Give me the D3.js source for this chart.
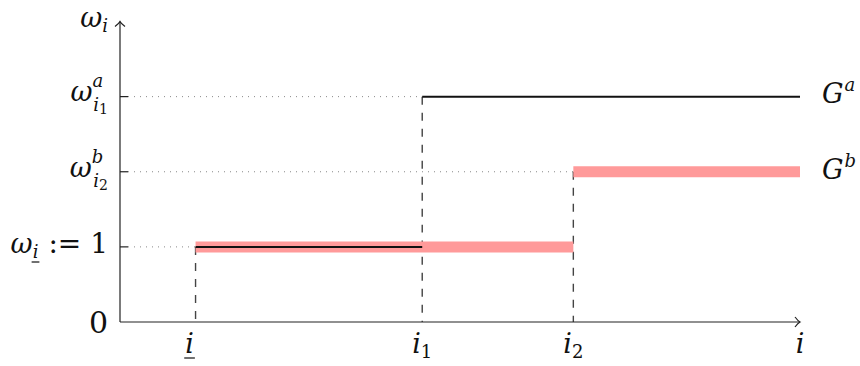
<!DOCTYPE html>
<html><head><meta charset="utf-8">
<script src="https://cdn.jsdelivr.net/npm/d3@7"></script>
<style>body{margin:0;background:#fff}svg{display:block}
text{font-family:"DejaVu Serif",serif}</style>
</head><body>
<svg id="c" width="860" height="366"></svg>
<script>
// ---- data ----
const xCategories = ["i_", "i1", "i2", "i"];     // x tick labels (symbolic)
const xValues = [1, 4, 6, 9];                      // positions of the index marks
const yLevels = [0, 1, 2, 3];                      // 0, ω_i:=1, ω^b_{i2}, ω^a_{i1}
const seriesA = [[1, 4, 1], [4, 9, 3]];            // G^a steps: [x0, x1, level]
const seriesB = [[1, 6, 1], [6, 9, 2]];            // G^b steps
const seriesNames = ["a", "b"];

const svg = d3.select("#c");
const x = d3.scaleLinear().domain([0, 9]).range([120, 800]);
const y = d3.scaleLinear().domain([0, 4]).range([322, 21.5]);

// dotted guide lines
const guides = [[xValues[0], 1], [xValues[2], 2], [xValues[1], 3]];
svg.append("g").selectAll("line").data(guides).join("line")
  .attr("x1", x(0) + 8).attr("x2", d => x(d[0]))
  .attr("y1", d => y(d[1])).attr("y2", d => y(d[1]))
  .attr("stroke", "#888").attr("stroke-width", 1).attr("stroke-dasharray", "1,5");

// dashed vertical lines
const verts = [[xValues[0], 1], [xValues[1], 3], [xValues[2], 2]];
svg.append("g").selectAll("line").data(verts).join("line")
  .attr("x1", d => x(d[0])).attr("x2", d => x(d[0]))
  .attr("y1", d => y(d[1])).attr("y2", y(0))
  .attr("stroke", "#444").attr("stroke-width", 1.4).attr("stroke-dasharray", "8,8");

// G^b thick pink
svg.append("g").selectAll("line").data(seriesB).join("line")
  .attr("x1", d => x(d[0])).attr("x2", d => x(d[1]))
  .attr("y1", d => y(d[2])).attr("y2", d => y(d[2]))
  .attr("stroke", "#ff9a9a").attr("stroke-width", 11);

// G^a black
svg.append("g").selectAll("line").data(seriesA).join("line")
  .attr("x1", d => x(d[0])).attr("x2", d => x(d[1]))
  .attr("y1", d => y(d[2])).attr("y2", d => y(d[2]))
  .attr("stroke", "#111").attr("stroke-width", 2);

// axes
const ax = svg.append("g").attr("fill", "none").attr("stroke", "#222").attr("stroke-width", 1.2);
ax.append("line").attr("x1", x(0)).attr("x2", x(9)).attr("y1", y(0)).attr("y2", y(0));
ax.append("line").attr("x1", x(0)).attr("x2", x(0)).attr("y1", y(0)).attr("y2", y(4));
ax.append("path").attr("d", `M${x(9)-5},${y(0)-5} Q${x(9)-2},${y(0)-1} ${x(9)},${y(0)} Q${x(9)-2},${y(0)+1} ${x(9)-5},${y(0)+5}`);
ax.append("path").attr("d", `M${x(0)-5},${y(4)+5} Q${x(0)-1},${y(4)+2} ${x(0)},${y(4)} Q${x(0)+1},${y(4)+2} ${x(0)+5},${y(4)+5}`);
ax.selectAll("line.t").data(yLevels.slice(1)).join("line").attr("class", "t")
  .attr("x1", x(0)).attr("x2", x(0) + 8).attr("y1", d => y(d)).attr("y2", d => y(d));

// math label helper: parts = [text, size, dy, italic, dx]
function label(px, py, parts, anchor) {
  const t = svg.append("text").attr("x", px).attr("y", py).attr("fill", "#111");
  parts.forEach(p => {
    t.append("tspan").text(p[0]).attr("font-size", p[1])
      .attr("dy", p[2] || 0).attr("dx", p[4] || 0)
      .attr("font-style", p[3] ? "italic" : "normal");
  });
  const bb = t.node().getBBox();
  if (anchor === "end") t.attr("x", px - bb.width);
  if (anchor === "middle") t.attr("x", px - bb.width / 2);
  return t;
}
function ulChar(t, idx, yy) {
  const n = t.node();
  const a = n.getStartPositionOfChar(idx).x, b = n.getEndPositionOfChar(idx).x;
  svg.append("line").attr("x1", a - 1).attr("x2", b + 1).attr("y1", yy).attr("y2", yy)
    .attr("stroke", "#111").attr("stroke-width", 1.2);
}

// y labels
label(108, 27, [["ω", 27, 0, 1], ["i", 18, 5, 1]], "end");
label(108, 101, [["ω", 27, 0, 1], ["a", 18, -14, 1], ["i", 18, 24, 1, -10], ["1", 14, 3, 0]], "end");
label(108, 177, [["ω", 27, 0, 1], ["b", 18, -14, 1], ["i", 18, 24, 1, -10], ["2", 14, 3, 0]], "end");
const lw = label(108, 253, [["ω", 27, 0, 1], ["i", 18, 5, 1], [":= 1", 28, -5, 0, 10]], "end");
ulChar(lw, 1, 262);
label(108, 333, [["0", 30, 0, 0]], "end");

// x labels
const xl = [
  [[["i", 27, 0, 1]], 1],
  [[["i", 27, 0, 1], ["1", 18, 5, 0]], 0],
  [[["i", 27, 0, 1], ["2", 18, 5, 0]], 0],
  [[["i", 27, 0, 1]], 0]
];
xValues.forEach((v, k) => {
  const t = label(x(v) + (k === 0 ? -6 : 0), 353, xl[k][0], "middle");
  if (xl[k][1]) ulChar(t, 0, 358);
});

// series names
label(822, 103, [["G", 27, 0, 1], [seriesNames[0], 18, -12, 1, 1]], "start");
label(822, 179, [["G", 27, 0, 1], [seriesNames[1], 18, -12, 1, 1]], "start");
</script>
</body></html>
